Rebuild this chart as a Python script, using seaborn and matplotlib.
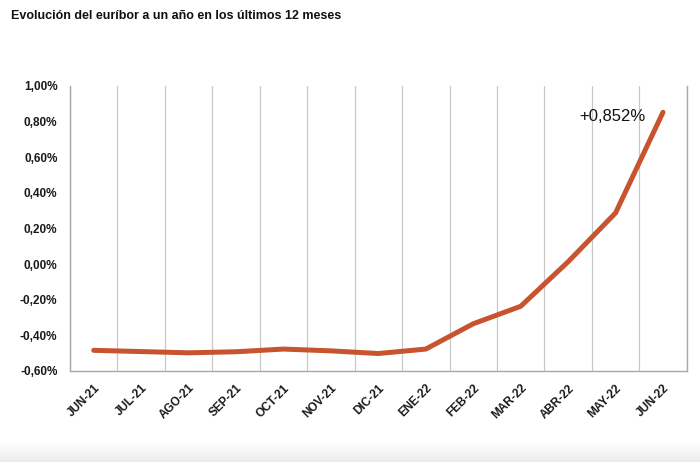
import numpy as np
import pandas as pd
import matplotlib
matplotlib.use("Agg")
import matplotlib.pyplot as plt
import seaborn as sns
from matplotlib.ticker import FuncFormatter, MultipleLocator

months = ["JUN-21", "JUL-21", "AGO-21", "SEP-21", "OCT-21", "NOV-21", "DIC-21",
          "ENE-22", "FEB-22", "MAR-22", "ABR-22", "MAY-22", "JUN-22"]
euribor = [-0.484, -0.491, -0.498, -0.492, -0.477, -0.487, -0.502,
           -0.477, -0.335, -0.237, 0.013, 0.287, 0.852]
title = "Evolución del euríbor a un año en los últimos 12 meses"
last_label = "+0,852%"

sns.set_theme(style="white")
plt.rcParams['font.family'] = ['Liberation Sans', 'DejaVu Sans']

df = pd.DataFrame({"mes": months, "valor": euribor})
df["pos"] = np.arange(len(df))

fig = plt.figure(figsize=(7, 4.62), dpi=100)

# faint grey fade along the bottom edge, like the screenshot
bg = fig.add_axes([0, 0, 1, 0.045], zorder=-1)
bg.imshow(np.linspace(0.925, 1.0, 64).reshape(-1, 1), cmap="gray", vmin=0, vmax=1,
          aspect="auto", origin="lower", extent=[0, 1, 0, 1])
bg.axis("off")

ax = fig.add_axes([0.1, 0.197, 0.881, 0.617])

sns.lineplot(data=df, x="pos", y="valor", ax=ax, color="#c8532f", lw=3.6,
             solid_capstyle="round", solid_joinstyle="round", zorder=3)

ax.set_xlim(-0.5, len(months) - 0.5)
ax.set_ylim(-0.6, 1.0)
ax.yaxis.set_major_locator(MultipleLocator(0.2))
ax.yaxis.set_major_formatter(FuncFormatter(lambda v, p: f"{v:.2f}%".replace(".", ",")))
ax.set_xticks(df["pos"])
ax.set_xticklabels(months, rotation=45, ha="right", rotation_mode="anchor")
ax.set_xticks(np.arange(len(months) + 1) - 0.5, minor=True)
ax.grid(which="minor", axis="x", color="#c8c8c8", lw=0.9)
ax.grid(which="major", axis="both", visible=False)
ax.tick_params(axis="both", which="both", length=0, labelsize=8.5)
ax.tick_params(axis="y", pad=9)
ax.tick_params(axis="x", pad=8)
for lab in ax.get_xticklabels() + ax.get_yticklabels():
    lab.set_fontweight("bold")
    lab.set_color("#1a1a1a")
ax.set_xlabel("")
ax.set_ylabel("")

for side in ["left", "bottom", "right"]:
    ax.spines[side].set_color("#a8a8a8")
    ax.spines[side].set_linewidth(1.0)
ax.spines["top"].set_visible(False)

ax.annotate(last_label, xy=(df["pos"].iloc[-1], df["valor"].iloc[-1]),
            xytext=(-60, -6), textcoords="offset points", fontsize=12,
            color="#111111")

fig.text(0.016, 0.978, title, fontsize=9, fontweight="bold", va="top", ha="left",
         color="#111111")

fig.savefig("out.png", dpi=100)
